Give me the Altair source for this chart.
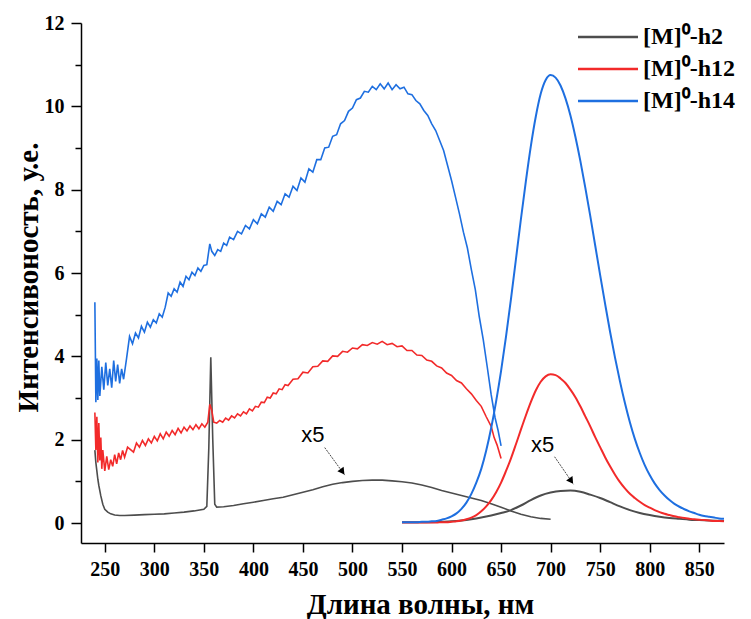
import altair as alt
import pandas as pd

# ---------------- data ----------------
SERIES = ["[M]⁰-h2", "[M]⁰-h12", "[M]⁰-h14"]
COLORS = ["#4d4d4d", "#f22a2a", "#1e6fe0"]

# excitation spectra (noisy)
gray_ex_x = [240, 241, 242, 243, 244, 246, 248, 250, 253, 256, 260, 265, 270, 280, 290, 300, 310, 320,
             330, 340, 350, 353, 355, 357, 359, 361, 363, 370, 380, 390, 400, 410, 420, 430, 440, 450,
             460, 470, 480, 490, 500, 510, 520, 530, 540, 550, 560, 570, 580, 590, 600, 610, 620, 630,
             640, 650, 660, 670, 680, 690, 700]
gray_ex_y = [1.75, 1.45, 1.25, 1.05, 0.90, 0.65, 0.45, 0.33, 0.26, 0.22, 0.19, 0.18, 0.18, 0.19, 0.20, 0.21,
             0.22, 0.24, 0.26, 0.29, 0.33, 0.40, 1.80, 3.98, 2.00, 0.45, 0.38, 0.39, 0.42, 0.46, 0.50, 0.54,
             0.58, 0.62, 0.68, 0.74, 0.80, 0.87, 0.93, 0.97, 1.00, 1.02, 1.03, 1.03, 1.01, 0.99, 0.96, 0.91,
             0.85, 0.78, 0.72, 0.66, 0.60, 0.54, 0.46, 0.38, 0.29, 0.21, 0.15, 0.11, 0.09]

red_ex_x = [240, 241, 242, 243, 244, 245, 246, 247, 248, 250, 252, 254, 256, 258, 260, 262, 264, 266, 268,
            270, 273, 276, 279, 282, 285, 288, 291, 294, 297, 300, 303, 306, 309, 312, 315, 318, 321, 324,
            327, 330, 333, 336, 339, 342, 345, 348, 351, 354, 356, 358, 360, 363, 366, 369, 372, 375, 378,
            381, 384, 387, 390, 393, 396, 399, 402, 405, 408, 411, 414, 417, 420, 423, 426, 429, 432, 435,
            440, 445, 450, 455, 460, 465, 470, 475, 480, 485, 490, 495, 500, 505, 510, 515, 520, 525, 530,
            535, 540, 545, 550, 555, 560, 565, 570, 575, 580, 585, 590, 595, 600, 605, 610, 615, 620, 625,
            630, 635, 640, 643, 646, 650]
red_ex_y = [2.65, 1.75, 2.55, 1.45, 2.40, 1.50, 2.05, 1.30, 1.75, 1.25, 1.60, 1.28, 1.52, 1.36, 1.64, 1.42,
            1.68, 1.52, 1.74, 1.58, 1.82, 1.76, 1.70, 1.92, 1.82, 1.98, 1.86, 2.02, 1.92, 2.08, 1.97, 2.14,
            2.02, 2.18, 2.08, 2.22, 2.12, 2.27, 2.16, 2.30, 2.21, 2.33, 2.24, 2.36, 2.26, 2.38, 2.30, 2.42,
            2.85, 2.70, 2.42, 2.40, 2.46, 2.42, 2.52, 2.47, 2.57, 2.52, 2.62, 2.57, 2.67, 2.62, 2.74, 2.69,
            2.80, 2.78, 2.90, 2.89, 3.02, 3.00, 3.12, 3.10, 3.22, 3.20, 3.32, 3.30, 3.45, 3.46, 3.62, 3.60,
            3.75, 3.76, 3.89, 3.88, 4.01, 4.00, 4.12, 4.10, 4.20, 4.18, 4.28, 4.26, 4.33, 4.29, 4.36, 4.28,
            4.31, 4.23, 4.25, 4.14, 4.14, 4.03, 4.02, 3.91, 3.88, 3.77, 3.72, 3.60, 3.54, 3.42, 3.36, 3.22,
            3.10, 2.94, 2.80, 2.55, 2.32, 2.05, 1.87, 1.55]

blue_ex_x = [240, 241, 242, 243, 244, 245, 247, 249, 251, 253, 255, 257, 259, 261, 263, 265, 267, 269, 272,
             275, 278, 281, 284, 287, 290, 293, 296, 299, 302, 305, 308, 311, 314, 317, 320, 323, 326, 329,
             332, 335, 338, 341, 344, 347, 350, 353, 356, 358, 361, 364, 367, 370, 373, 376, 380, 384, 388,
             392, 396, 400, 404, 408, 412, 416, 420, 424, 428, 432, 436, 440, 444, 448, 452, 456, 460, 464,
             468, 472, 476, 480, 484, 488, 492, 496, 500, 504, 508, 512, 516, 520, 524, 528, 532, 536, 540,
             544, 548, 552, 556, 560, 564, 568, 572, 576, 580, 584, 588, 592, 596, 600, 604, 608, 612, 616,
             620, 624, 628, 632, 636, 640, 644, 647, 650]
blue_ex_y = [5.30, 2.90, 3.95, 2.95, 3.90, 3.05, 3.75, 3.20, 3.85, 3.30, 3.70, 3.25, 3.90, 3.40, 3.80, 3.35,
             3.70, 3.45, 3.95, 4.48, 4.30, 4.56, 4.44, 4.72, 4.58, 4.82, 4.70, 4.88, 4.80, 5.02, 4.94, 5.18,
             5.52, 5.44, 5.62, 5.54, 5.78, 5.68, 5.92, 5.84, 6.02, 5.94, 6.12, 6.04, 6.18, 6.20, 6.70, 6.52,
             6.42, 6.56, 6.52, 6.72, 6.66, 6.86, 6.80, 7.00, 6.94, 7.14, 7.06, 7.28, 7.18, 7.42, 7.34, 7.58,
             7.48, 7.72, 7.64, 7.90, 7.82, 8.08, 7.98, 8.28, 8.18, 8.50, 8.42, 8.72, 8.72, 9.00, 9.02, 9.28,
             9.32, 9.58, 9.66, 9.88, 9.96, 10.16, 10.20, 10.36, 10.34, 10.48, 10.40, 10.54, 10.42, 10.56,
             10.40, 10.52, 10.42, 10.46, 10.30, 10.28, 10.14, 10.06, 9.90, 9.78, 9.58, 9.42, 9.18, 8.94,
             8.58, 8.22, 7.82, 7.42, 6.98, 6.60, 6.08, 5.60, 4.95, 4.40, 3.75, 3.08, 2.52, 2.22, 1.85]

# emission spectra (smooth)
em_x = [550, 555, 560, 565, 570, 575, 580, 585, 590, 595, 600, 605, 610, 615, 620, 625, 630, 635, 640, 645,
        650, 655, 660, 665, 670, 675, 680, 685, 690, 695, 700, 705, 710, 715, 720, 725, 730, 735, 740, 745,
        750, 755, 760, 765, 770, 775, 780, 785, 790, 795, 800, 805, 810, 815, 820, 825, 830, 835, 840, 845,
        850, 855, 860, 865, 870, 875]
blue_em_y = [0.02, 0.02, 0.02, 0.02, 0.03, 0.03, 0.04, 0.05, 0.08, 0.11, 0.16, 0.23, 0.34, 0.49, 0.70, 0.97,
             1.30, 1.74, 2.28, 2.92, 3.65, 4.48, 5.38, 6.33, 7.29, 8.20, 9.04, 9.75, 10.30, 10.63, 10.75,
             10.69, 10.50, 10.19, 9.78, 9.27, 8.69, 8.05, 7.37, 6.66, 5.95, 5.26, 4.59, 3.97, 3.40, 2.88,
             2.42, 2.02, 1.68, 1.39, 1.15, 0.95, 0.79, 0.66, 0.55, 0.46, 0.39, 0.33, 0.28, 0.24, 0.20, 0.17,
             0.15, 0.13, 0.11, 0.10]
red_em_y = [0.01, 0.01, 0.01, 0.01, 0.01, 0.01, 0.01, 0.01, 0.02, 0.02, 0.03, 0.04, 0.06, 0.09, 0.13, 0.19,
            0.28, 0.40, 0.55, 0.74, 0.97, 1.25, 1.55, 1.89, 2.24, 2.58, 2.90, 3.18, 3.39, 3.52, 3.57, 3.55,
            3.47, 3.36, 3.20, 3.02, 2.80, 2.56, 2.32, 2.06, 1.82, 1.58, 1.36, 1.16, 0.98, 0.83, 0.70, 0.60,
            0.51, 0.43, 0.37, 0.31, 0.26, 0.22, 0.19, 0.16, 0.14, 0.12, 0.10, 0.09, 0.08, 0.07, 0.06, 0.05,
            0.05, 0.04]
gray_em_x = [550, 570, 590, 600, 610, 620, 630, 640, 650, 660, 670, 680, 690, 700, 710, 720, 730, 740, 750,
             760, 770, 780, 790, 800, 810, 820, 830, 840, 850, 860, 875]
gray_em_y = [0.02, 0.02, 0.03, 0.04, 0.06, 0.09, 0.13, 0.18, 0.24, 0.31, 0.42, 0.55, 0.66, 0.73, 0.77, 0.78,
             0.75, 0.68, 0.60, 0.50, 0.40, 0.31, 0.24, 0.19, 0.15, 0.12, 0.10, 0.08, 0.07, 0.06, 0.05]

# annotations
note_x = [460, 692]
note_y = [2.12, 1.87]
note_text = ["x5", "x5"]
arrow_x1 = [472.0, 704.0]
arrow_y1 = [1.81, 1.59]
arrow_x2 = [492.2, 723.1]
arrow_y2 = [1.15, 0.93]
head_x = [489.9, 720.8]
head_y = [1.23, 1.01]
head_angle = [324, 325]

x_ticks = list(range(250, 876, 25))
y_ticks = list(range(0, 13, 1))

# ---------------- tables ----------------
rows = []
for s, xs, ys in [(SERIES[0], gray_ex_x, gray_ex_y), (SERIES[1], red_ex_x, red_ex_y), (SERIES[2], blue_ex_x, blue_ex_y)]:
    for xv, yv in zip(xs, ys):
        rows.append({"series": s, "seg": s + "ex", "x": xv, "y": yv})
ex_df = pd.DataFrame(rows)
rows = []
for s, xs, ys in [(SERIES[0], gray_em_x, gray_em_y), (SERIES[1], em_x, red_em_y), (SERIES[2], em_x, blue_em_y)]:
    for xv, yv in zip(xs, ys):
        rows.append({"series": s, "seg": s + "em", "x": xv, "y": yv})
em_df = pd.DataFrame(rows)
note_df = pd.DataFrame({"x": note_x, "y": note_y, "t": note_text})
arrow_df = pd.DataFrame({"x": arrow_x1, "y": arrow_y1, "x2": arrow_x2, "y2": arrow_y2})
head_df = pd.DataFrame({"x": head_x, "y": head_y, "a": head_angle})

SERIF = "Liberation Serif"

x_scale = alt.Scale(domain=[226, 875], nice=False, zero=False)
y_scale = alt.Scale(domain=[-0.48, 12], nice=False, zero=False)

x_axis = alt.Axis(
    values=x_ticks, grid=False,
    labelExpr="datum.value % 50 == 0 ? datum.label : ''",
    tickSize={"condition": {"test": "datum.value % 50 == 0", "value": 9}, "value": 5},
    labelOverlap=False, labelFlush=False,
    labelFont=SERIF, labelFontWeight="bold", labelFontSize=20, labelColor="black", labelPadding=7,
    domainColor="black", domainWidth=1.5, tickColor="black", tickWidth=1.5,
    title="Длина волны, нм", titleFont=SERIF, titleFontWeight="bold", titleFontSize=29, titleColor="black",
    titleX=339, titleY=61, titleAlign="center", titleBaseline="middle",
)
y_axis = alt.Axis(
    values=y_ticks, grid=False,
    labelExpr="datum.value % 2 == 0 ? datum.label : ''",
    tickSize={"condition": {"test": "datum.value % 2 == 0", "value": 10}, "value": 6},
    labelOverlap=False, labelFlush=False,
    labelFont=SERIF, labelFontWeight="bold", labelFontSize=20, labelColor="black", labelPadding=7,
    domainColor="black", domainWidth=1.5, tickColor="black", tickWidth=1.5,
    title="Интенсивоность, у.е.", titleFont=SERIF, titleFontWeight="bold", titleFontSize=29, titleColor="black",
    titleX=-53, titleY=254, titleAngle=270, titleAlign="center", titleBaseline="middle",
)

color = alt.Color(
    "series:N",
    scale=alt.Scale(domain=SERIES, range=COLORS),
    legend=alt.Legend(
        title=None, orient="none", legendX=495, legendY=2, padding=0,
        symbolType="M-1,0H5", symbolSize=400, symbolStrokeWidth=2.5, symbolFillColor="transparent",
        labelFont=SERIF, labelFontWeight="bold", labelFontSize=24, labelColor="black",
        labelOffset=43, rowPadding=8, labelLimit=300,
    ),
)

ex = alt.Chart(ex_df).mark_line(strokeWidth=1.6).encode(
    x=alt.X("x:Q", scale=x_scale, axis=x_axis),
    y=alt.Y("y:Q", scale=y_scale, axis=y_axis),
    color=color, detail="seg:N",
)
em = alt.Chart(em_df).mark_line(strokeWidth=2, interpolate="monotone").encode(
    x="x:Q", y="y:Q", color=alt.Color("series:N", legend=None), detail="seg:N",
)
arrows = alt.Chart(arrow_df).mark_rule(color="#333333", strokeWidth=0.9, strokeDash=[2, 1]).encode(
    x="x:Q", y="y:Q", x2="x2:Q", y2="y2:Q"
)
heads = alt.Chart(head_df).mark_point(shape="triangle-down", filled=True, color="black", size=60, opacity=1).encode(
    x="x:Q", y="y:Q", angle=alt.Angle("a:Q", scale=None)
)
notes = alt.Chart(note_df).mark_text(font="Liberation Sans", fontSize=22, color="black", baseline="middle", align="center").encode(
    x="x:Q", y="y:Q", text="t:N"
)

chart = alt.layer(ex, em, arrows, heads, notes).properties(
    width=643, height=520,
    autosize=alt.AutoSizeParams(type="none"),
    padding={"left": 81, "top": 23, "right": 27, "bottom": 76},
    background="white",
).configure_view(stroke=None)

chart.save("out.html", embed_options={"renderer": "svg", "actions": False})
